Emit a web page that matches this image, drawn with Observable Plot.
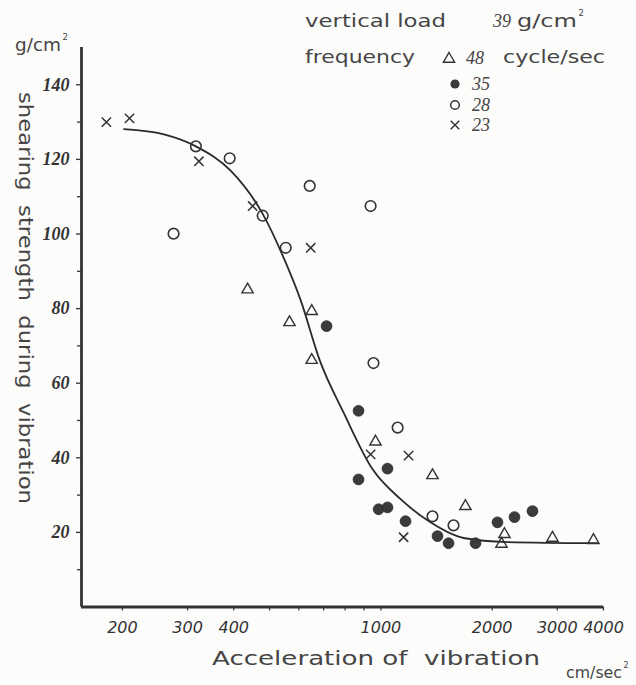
<!DOCTYPE html>
<html>
<head>
<meta charset="utf-8">
<script src="https://cdn.jsdelivr.net/npm/d3@7"></script>
<script src="https://cdn.jsdelivr.net/npm/@observablehq/plot@0.6"></script>
<style>
  html, body { margin: 0; padding: 0; background: #fcfcfb; }
  #chart svg { display: block; }
</style>
</head>
<body>
<div id="chart"></div>
<script>
// ---- data: [acceleration cm/sec², shearing strength g/cm²]
const freq48 = [[436,85.1],[566,76.3],[650,79.3],[650,66.2],[967,44.3],[1379,35.3],[1693,27.0],[2159,19.5],[2119,16.9],[2911,18.5],[3757,17.9]];
const freq35 = [[713,75.3],[870,52.6],[870,34.2],[1042,37.1],[986,26.2],[1042,26.7],[1166,23.0],[1423,19.0],[1524,17.1],[1803,17.1],[2067,22.7],[2298,24.1],[2570,25.7]];
const freq28 = [[275,100.1],[316,123.5],[390,120.3],[479,104.9],[553,96.3],[642,112.9],[938,107.5],[955,65.4],[1110,48.1],[1379,24.3],[1572,21.9]];
const freq23 = [[181,130.0],[209,131.0],[322,119.5],[450,107.5],[646,96.3],[938,40.9],[1188,40.6],[1152,18.7]];
// fitted curve drawn through the data
const curveX = [202,259,316,393,479,553,607,683,793,950,1131,1362,1673,2200,3851];
const curveY = [128.1,126.7,123.5,116.9,105.4,92.3,82.2,66.2,52.1,36.9,28.9,22.7,18.5,17.4,17.1];
// ticks
const xTickMarks = [200,300,400,500,600,700,800,900,1000,2000,3000,4000];
const xTickLabels = [200,300,400,1000,2000,3000,4000];
const yMajor = [20,40,60,80,100,120,140];
const yMinor = [10,30,50,70,90,110,130];
// legend
const legendItems = [
  {symbol: "triangle", label: "48"},
  {symbol: "filled", label: "35"},
  {symbol: "circle", label: "28"},
  {symbol: "times", label: "23"}
];

const ink = "#333";
const textInk = "#454545";
const xMin = 155, xMax = 4000;

const curve = curveX.map((x, i) => ({x, y: curveY[i]}));
const pt = a => a.map(([x, y]) => ({x, y}));

const plot = Plot.plot({
  width: 636,
  height: 685,
  marginLeft: 81,
  marginRight: 33,
  marginTop: 47,
  marginBottom: 78.5,
  style: {background: "transparent", color: ink, overflow: "visible"},
  x: {type: "log", domain: [xMin, xMax]},
  y: {domain: [0, 150]},
  marks: [
    Plot.axisY(yMinor, {tickSize: 4, strokeWidth: 1.3, text: null, label: null}),
    Plot.axisY(yMajor, {tickSize: 5, strokeWidth: 1.3, tickPadding: 7, label: null,
      fontSize: 18, fontFamily: "Liberation Serif", fontStyle: "italic", fontWeight: "bold"}),
    Plot.axisX(xTickMarks, {tickSize: 4, strokeWidth: 1.2, text: null, label: null}),
    Plot.axisX(xTickLabels, {tickSize: 0, tickPadding: 15, label: null, tickFormat: d => String(d),
      fontSize: 16, fontFamily: "DejaVu Sans", fontStyle: "italic"}),
    Plot.ruleX([xMin], {y1: 0, y2: 150, stroke: ink, strokeWidth: 2.8}),
    Plot.ruleY([0], {x1: xMin, x2: xMax, stroke: ink, strokeWidth: 3}),
    Plot.line(curve, {x: "x", y: "y", curve: "monotone-x", stroke: "#2a2a2a", strokeWidth: 1.8}),
    Plot.dot(pt(freq48), {x: "x", y: "y", symbol: "triangle", r: 4.2, stroke: ink, strokeWidth: 1.4, fill: "none"}),
    Plot.dot(pt(freq28), {x: "x", y: "y", symbol: "circle", r: 5.3, stroke: ink, strokeWidth: 1.6, fill: "none"}),
    Plot.dot(pt(freq23), {x: "x", y: "y", symbol: "times", r: 4.3, stroke: ink, strokeWidth: 1.5}),
    Plot.dot(pt(freq35), {x: "x", y: "y", symbol: "circle", r: 5.4, fill: "#3b3b3b", stroke: "#2a2a2a", strokeWidth: 0.8})
  ]
});

document.getElementById("chart").appendChild(plot);

const svg = d3.select(plot);
const sans = "DejaVu Sans";
function addText(x, y, s, o = {}) {
  const t = svg.append("text")
    .attr("x", x).attr("y", y)
    .attr("fill", o.fill || textInk)
    .attr("font-family", o.family || sans)
    .attr("font-size", o.size || 18)
    .attr("font-style", o.style || "normal")
    .attr("text-anchor", o.anchor || "start");
  if (o.length) t.attr("textLength", o.length).attr("lengthAdjust", "spacingAndGlyphs");
  if (o.transform) t.attr("transform", o.transform);
  t.text(s);
  return t;
}
// unit text with a small raised "2" as its own text element
function addUnit(x, y, base, size, length) {
  addText(x, y, base, {size, length});
  addText(x + length + 1.5, y - size * 0.62, "2", {size: size * 0.5});
}

// unit on y axis
addUnit(15, 51, "g/cm", 17, 46);
// y axis title (reads downward)
addText(0, 0, "shearing  strength  during  vibration", {size: 19, anchor: "middle", length: 412,
  transform: "translate(19,298) rotate(90)"});
// x axis title
addText(212, 665, "Acceleration of  vibration", {size: 19, length: 328});
addUnit(566, 678, "cm/sec", 16, 56);

// legend header
addText(305, 27, "vertical load", {size: 18, length: 141});
addText(493, 27, "39", {size: 18, family: "Liberation Serif", style: "italic"});
addUnit(517, 27, "g/cm", 17, 60);
addText(305, 63, "frequency", {size: 18, length: 110});
addText(503, 63, "cycle/sec", {size: 18, length: 102});

const legendY = [58, 84, 105, 125];
const legendSX = [449, 455, 455, 455];
legendItems.forEach((d, i) => {
  const y = legendY[i], x = legendSX[i];
  if (d.symbol === "triangle") {
    svg.append("path").attr("d", d3.symbol(d3.symbolTriangle, 55)())
      .attr("transform", `translate(${x},${y + 1})`).attr("fill", "none").attr("stroke", ink).attr("stroke-width", 1.4);
  } else if (d.symbol === "filled") {
    svg.append("circle").attr("cx", x).attr("cy", y).attr("r", 4.6).attr("fill", "#3b3b3b");
  } else if (d.symbol === "circle") {
    svg.append("circle").attr("cx", x).attr("cy", y).attr("r", 4.3).attr("fill", "none").attr("stroke", ink).attr("stroke-width", 1.5);
  } else {
    svg.append("path").attr("d", d3.symbol(d3.symbolTimes, 50)())
      .attr("transform", `translate(${x},${y})`).attr("fill", "none").attr("stroke", ink).attr("stroke-width", 1.4);
  }
  addText(x + 17, y + 6, d.label, {size: 18, family: "Liberation Serif", style: "italic"});
});
</script>
</body>
</html>
